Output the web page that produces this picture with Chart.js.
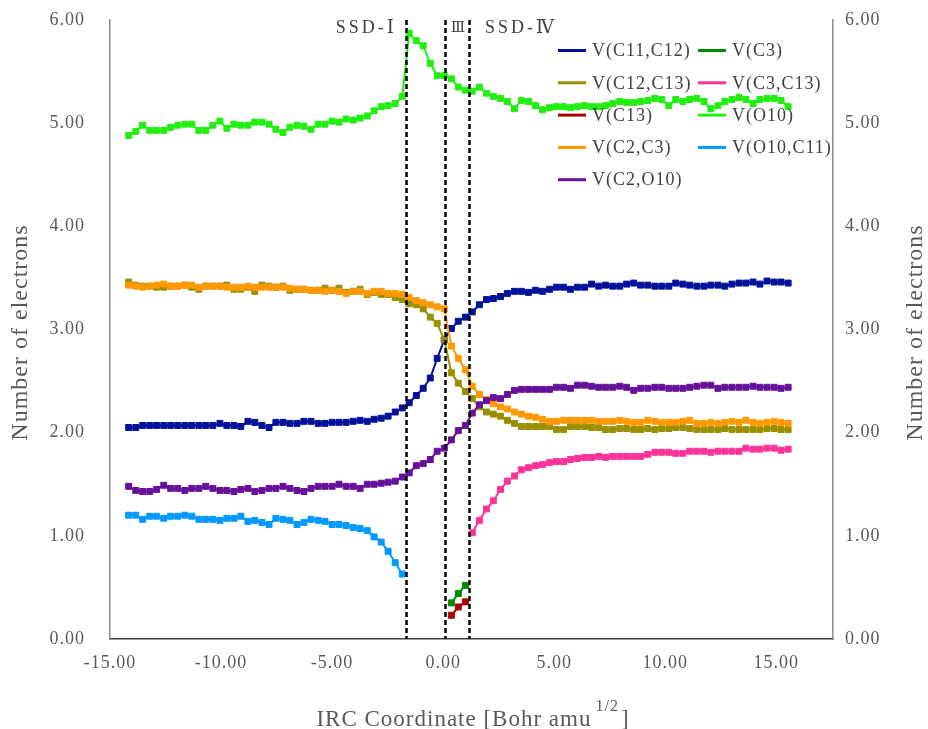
<!DOCTYPE html>
<html>
<head>
<meta charset="utf-8">
<script src="https://cdn.jsdelivr.net/npm/chart.js@4"></script>
<style>
html,body{margin:0;padding:0;background:#fff;}
canvas{display:block;}
</style>
</head>
<body>
<canvas id="c" width="928" height="729" style="width:928px;height:729px"></canvas>
<script>
// ---- data ----
const xs = [
 -14.16,-13.84,-13.53,-13.21,-12.90,-12.58,-12.27,-11.95,-11.63,-11.32,
 -11.00,-10.69,-10.37,-10.05,-9.74,-9.42,-9.11,-8.79,-8.48,-8.16,
 -7.84,-7.53,-7.21,-6.90,-6.58,-6.27,-5.95,-5.63,-5.32,-5.00,
 -4.69,-4.37,-4.05,-3.74,-3.42,-3.11,-2.79,-2.48,-2.16,-1.84,
 -1.53,-1.21,-0.90,-0.58,-0.27,0.05,0.37,0.68,1.00,1.31,
 1.63,1.95,2.26,2.58,2.89,3.21,3.52,3.84,4.16,4.47,
 4.79,5.10,5.42,5.73,6.05,6.37,6.68,7.00,7.31,7.63,
 7.95,8.26,8.58,8.89,9.21,9.53,9.84,10.16,10.47,10.79,
 11.10,11.42,11.74,12.05,12.37,12.68,13.00,13.32,13.63,13.95,
 14.26,14.58,14.90,15.21,15.53
];

const vC11C12 = [
 2.05,2.05,2.07,2.07,2.07,2.07,2.07,2.07,2.07,2.07,
 2.07,2.07,2.07,2.09,2.07,2.07,2.06,2.11,2.10,2.07,
 2.05,2.10,2.10,2.09,2.09,2.11,2.11,2.09,2.09,2.10,
 2.10,2.10,2.11,2.12,2.11,2.13,2.14,2.16,2.20,2.24,
 2.29,2.36,2.43,2.53,2.72,2.90,3.01,3.08,3.12,3.17,
 3.24,3.29,3.30,3.32,3.35,3.37,3.37,3.36,3.38,3.37,
 3.39,3.41,3.41,3.39,3.41,3.41,3.44,3.42,3.43,3.42,
 3.42,3.44,3.45,3.43,3.43,3.42,3.42,3.42,3.45,3.44,
 3.43,3.42,3.42,3.43,3.43,3.42,3.44,3.45,3.45,3.46,
 3.44,3.47,3.46,3.46,3.45
];
const startC11C12 = 0;

const vC3 = [0.35,0.44,0.52];
const startC3 = 46;

const vC12C13 = [
 3.46,3.43,3.42,3.42,3.41,3.41,3.42,3.42,3.43,3.41,
 3.39,3.42,3.42,3.42,3.43,3.39,3.39,3.41,3.37,3.43,
 3.42,3.41,3.42,3.38,3.39,3.39,3.38,3.38,3.40,3.38,
 3.40,3.36,3.37,3.39,3.34,3.36,3.34,3.34,3.31,3.29,
 3.25,3.24,3.20,3.12,3.06,2.90,2.58,2.48,2.40,2.33,
 2.25,2.20,2.18,2.16,2.12,2.09,2.06,2.06,2.06,2.06,
 2.06,2.03,2.03,2.06,2.06,2.06,2.05,2.05,2.03,2.03,
 2.04,2.04,2.03,2.03,2.04,2.03,2.04,2.04,2.05,2.05,
 2.04,2.03,2.03,2.03,2.03,2.04,2.03,2.03,2.03,2.03,
 2.03,2.04,2.04,2.03,2.03
];
const startC12C13 = 0;

const vC3C13 = [
 1.03,
 1.15,1.26,1.34,1.45,1.53,1.58,1.64,1.66,1.68,1.69,
 1.71,1.72,1.72,1.74,1.75,1.76,1.76,1.77,1.76,1.77,
 1.77,1.77,1.77,1.77,1.79,1.81,1.81,1.81,1.80,1.80,
 1.82,1.82,1.82,1.81,1.82,1.82,1.82,1.82,1.85,1.84,
 1.84,1.85,1.85,1.83,1.84
];
const startC3C13 = 49;

const vC13 = [0.23,0.31,0.36];
const startC13 = 46;

const vO10 = [
 4.88,4.92,4.98,4.93,4.93,4.93,4.96,4.98,4.99,4.99,
 4.93,4.93,4.98,5.02,4.95,4.99,4.98,4.98,5.01,5.01,
 4.99,4.94,4.91,4.96,4.98,4.97,4.94,4.99,4.99,5.02,
 5.01,5.04,5.03,5.05,5.07,5.12,5.16,5.17,5.19,5.26,
 5.87,5.80,5.75,5.58,5.46,5.46,5.43,5.35,5.32,5.31,
 5.35,5.29,5.26,5.24,5.21,5.14,5.22,5.21,5.17,5.13,
 5.15,5.16,5.16,5.15,5.16,5.17,5.16,5.16,5.17,5.19,
 5.21,5.20,5.20,5.21,5.22,5.24,5.23,5.17,5.23,5.21,
 5.23,5.24,5.21,5.14,5.17,5.21,5.23,5.25,5.23,5.19,
 5.23,5.24,5.24,5.22,5.16
];
const startO10 = 0;

const vC2C3 = [
 3.43,3.42,3.41,3.42,3.43,3.44,3.42,3.42,3.43,3.43,
 3.41,3.42,3.42,3.42,3.41,3.41,3.41,3.42,3.41,3.41,
 3.41,3.41,3.41,3.40,3.39,3.39,3.38,3.38,3.37,3.38,
 3.37,3.35,3.37,3.37,3.35,3.37,3.37,3.35,3.35,3.34,
 3.31,3.28,3.26,3.24,3.22,3.20,2.84,2.72,2.61,2.45,
 2.37,2.32,2.28,2.25,2.23,2.20,2.18,2.16,2.15,2.13,
 2.11,2.11,2.12,2.12,2.12,2.12,2.12,2.11,2.11,2.11,
 2.12,2.11,2.10,2.10,2.12,2.11,2.10,2.10,2.10,2.11,
 2.12,2.09,2.09,2.10,2.09,2.10,2.11,2.10,2.12,2.10,
 2.09,2.10,2.11,2.10,2.09
];
const startC2C3 = 0;

const vO10C11 = [
 1.20,1.20,1.16,1.19,1.19,1.17,1.19,1.19,1.20,1.19,
 1.16,1.16,1.16,1.15,1.17,1.17,1.19,1.14,1.15,1.13,
 1.11,1.17,1.16,1.15,1.11,1.13,1.16,1.15,1.14,1.11,
 1.11,1.10,1.08,1.07,1.05,0.99,0.94,0.85,0.74,0.63
];
const startO10C11 = 0;

const vC2O10 = [
 1.48,1.44,1.43,1.43,1.45,1.49,1.46,1.46,1.44,1.46,
 1.46,1.48,1.46,1.44,1.44,1.43,1.45,1.46,1.43,1.44,
 1.46,1.46,1.48,1.46,1.44,1.43,1.46,1.48,1.48,1.48,
 1.50,1.48,1.48,1.46,1.50,1.50,1.51,1.52,1.53,1.57,
 1.61,1.68,1.70,1.74,1.82,1.85,1.93,2.02,2.07,2.19,
 2.27,2.31,2.34,2.33,2.37,2.41,2.42,2.42,2.42,2.42,
 2.42,2.44,2.44,2.43,2.46,2.46,2.45,2.44,2.44,2.44,
 2.45,2.44,2.41,2.43,2.43,2.44,2.44,2.43,2.43,2.43,
 2.44,2.45,2.46,2.46,2.43,2.44,2.44,2.44,2.44,2.45,
 2.44,2.44,2.44,2.43,2.44
];
const startC2O10 = 0;

const seriesLabels = ['V(C11,C12)','V(C3)','V(C12,C13)','V(C3,C13)','V(C13)','V(O10)','V(C2,C3)','V(O10,C11)','V(C2,O10)'];
const xTickValues = [-15,-10,-5,0,5,10,15];
const yTickValues = [0,1,2,3,4,5,6];
const dividers = [-1.68, 0.08, 1.16];
const regionLabels = ['SSD-Ⅰ','Ⅲ','SSD-Ⅳ'];
const yTitle = 'Number of electrons';
const xTitleMain = 'IRC Coordinate [Bohr amu';
const xTitleSup = '1/2';
const xTitleEnd = ']';

// ---- styles ----
const colors = ['#00129A','#008C00','#998F00','#FF3399','#AA0000','#22EE11','#FF9900','#0099FF','#661199'];
const FONT = '"Liberation Serif","DejaVu Serif","Noto Sans CJK JP",serif';
const TXT = '#595959';

const seriesValues = [vC11C12,vC3,vC12C13,vC3C13,vC13,vO10,vC2C3,vO10C11,vC2O10];
const seriesStart = [startC11C12,startC3,startC12C13,startC3C13,startC13,startO10,startC2C3,startO10C11,startC2O10];

const datasets = seriesValues.map((vals, k) => ({
  label: seriesLabels[k],
  data: vals.map((v, j) => ({x: xs[seriesStart[k] + j], y: v})),
  borderColor: colors[k],
  backgroundColor: colors[k],
  borderWidth: 2,
  pointStyle: 'rect',
  pointRadius: 4.2,
  pointBorderWidth: 1,
  pointHoverRadius: 4.2,
  tension: 0,
  order: seriesValues.length - k
}));

const drawPlugin = {
  id: 'drawExtras',
  beforeDraw(chart) {
    chart.ctx.letterSpacing = '1px';
  },
  afterDatasetsDraw(chart) {
    const {ctx, chartArea: a, scales: {x}} = chart;
    ctx.save();
    ctx.strokeStyle = '#000';
    ctx.lineWidth = 2.5;
    ctx.setLineDash([5, 3]);
    dividers.forEach(v => {
      const px = Math.round(x.getPixelForValue(v)) + 0.5;
      ctx.beginPath();
      ctx.moveTo(px, a.top);
      ctx.lineTo(px, a.bottom);
      ctx.stroke();
    });
    ctx.restore();
  },
  afterDraw(chart) {
    const {ctx, chartArea: a, scales: {x}} = chart;
    ctx.save();
    ctx.setLineDash([]);
    // region labels
    ctx.fillStyle = '#404040';
    ctx.font = '18px ' + FONT;
    ctx.letterSpacing = '3px';
    ctx.textBaseline = 'middle';
    const d0 = x.getPixelForValue(dividers[0]);
    const d1 = x.getPixelForValue(dividers[1]);
    const d2 = x.getPixelForValue(dividers[2]);
    ctx.textAlign = 'right';
    ctx.fillText(regionLabels[0], d0 - 9, 28);
    ctx.textAlign = 'center';
    ctx.letterSpacing = '0px';
    ctx.font = '15px ' + FONT;
    ctx.fillText(regionLabels[1], (d1 + d2) / 2 + 1, 28);
    ctx.font = '18px ' + FONT;
    ctx.letterSpacing = '3px';
    ctx.textAlign = 'left';
    ctx.fillText(regionLabels[2], d2 + 16, 28);

    // legend
    ctx.font = '18px ' + FONT;
    ctx.letterSpacing = '1px';
    ctx.fillStyle = '#404040';
    const colX = [558, 698];
    chart.data.datasets.forEach((ds, k) => {
      const col = k % 2, row = Math.floor(k / 2);
      const ly = 50.5 + row * 32.3;
      ctx.strokeStyle = ds.borderColor;
      ctx.lineWidth = 3;
      ctx.beginPath();
      ctx.moveTo(colX[col], ly);
      ctx.lineTo(colX[col] + 28, ly);
      ctx.stroke();
      ctx.textAlign = 'left';
      ctx.textBaseline = 'middle';
      ctx.fillText(ds.label, colX[col] + 34, ly + 1);
    });

    // y titles
    ctx.fillStyle = TXT;
    ctx.font = '24px ' + FONT;
    ctx.letterSpacing = '1px';
    ctx.textAlign = 'center';
    ctx.textBaseline = 'middle';
    const midY = (a.top + a.bottom) / 2 + 3;
    [21, 916].forEach(cx => {
      ctx.save();
      ctx.translate(cx, midY);
      ctx.rotate(-Math.PI / 2);
      ctx.fillText(yTitle, 0, 0);
      ctx.restore();
    });

    // x title with superscript
    ctx.font = '23px ' + FONT;
    ctx.letterSpacing = '1px';
    const w1 = ctx.measureText(xTitleMain).width;
    const w3 = ctx.measureText(xTitleEnd).width;
    ctx.font = '16px ' + FONT;
    const w2 = ctx.measureText(xTitleSup).width;
    const total = w1 + 4 + w2 + 2 + w3;
    let sx = 473 - total / 2;
    ctx.textAlign = 'left';
    ctx.textBaseline = 'alphabetic';
    ctx.font = '23px ' + FONT;
    ctx.fillText(xTitleMain, sx, 726);
    ctx.font = '16px ' + FONT;
    ctx.fillText(xTitleSup, sx + w1 + 4, 711);
    ctx.font = '23px ' + FONT;
    ctx.fillText(xTitleEnd, sx + w1 + 4 + w2 + 2, 726);
    ctx.restore();
  }
};

const tickFont = {family: FONT, size: 18};
const fitY = w => s => { s.width = w; s.paddingTop = 0; s.paddingBottom = 0; };

new Chart(document.getElementById('c').getContext('2d'), {
  type: 'line',
  data: {datasets},
  options: {
    responsive: false,
    animation: false,
    events: [],
    layout: {padding: {top: 20, left: 0, right: 0, bottom: 0}, autoPadding: false},
    scales: {
      x: {
        type: 'linear',
        min: -15,
        max: 17.55,
        afterBuildTicks: s => { s.ticks = xTickValues.map(v => ({value: v})); },
        afterFit: s => { s.height = 90; },
        ticks: {callback: v => v.toFixed(2), font: tickFont, color: TXT, padding: 13, maxRotation: 0, autoSkip: false},
        grid: {display: false, drawTicks: false},
        border: {display: true, color: '#404040', width: 1.5}
      },
      y: {
        position: 'left',
        min: 0, max: 6,
        afterBuildTicks: s => { s.ticks = yTickValues.map(v => ({value: v})); },
        afterFit: fitY(110),
        ticks: {callback: v => v.toFixed(2), font: tickFont, color: TXT, padding: 25},
        grid: {display: false, drawTicks: false},
        border: {display: true, color: '#8c8c8c', width: 1.5}
      },
      y2: {
        position: 'right',
        min: 0, max: 6,
        afterBuildTicks: s => { s.ticks = yTickValues.map(v => ({value: v})); },
        afterFit: fitY(95),
        ticks: {callback: v => v.toFixed(2), font: tickFont, color: TXT, padding: 12},
        grid: {display: false, drawTicks: false},
        border: {display: true, color: '#8c8c8c', width: 1.5}
      }
    },
    plugins: {legend: {display: false}, tooltip: {enabled: false}}
  },
  plugins: [drawPlugin]
});
</script>
</body>
</html>
